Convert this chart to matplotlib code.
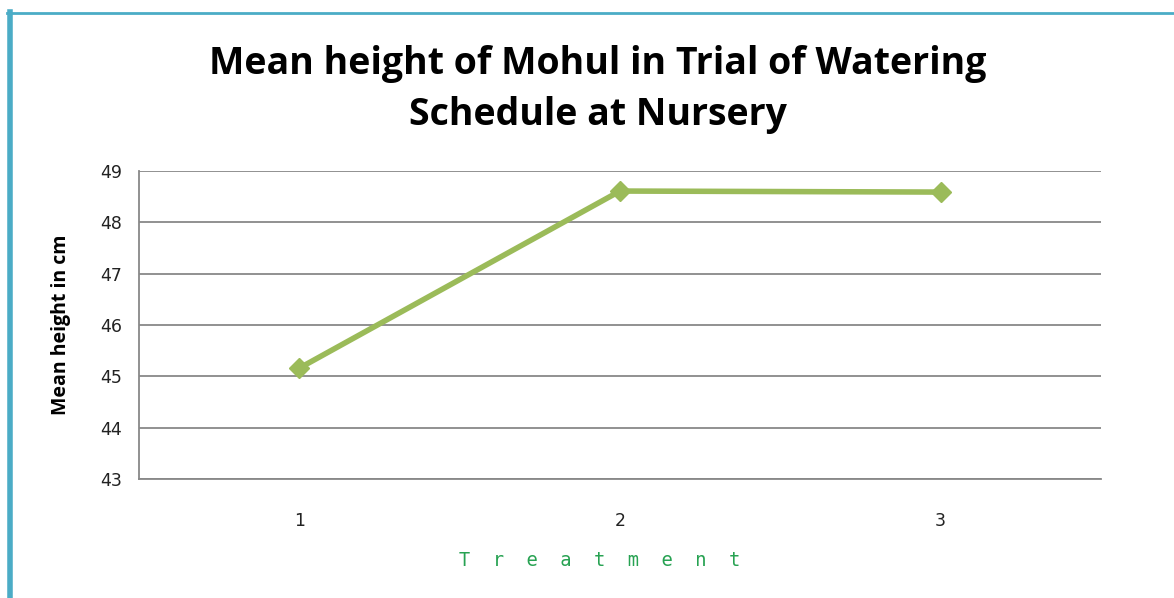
import matplotlib.pyplot as plt
from matplotlib.lines import Line2D

treatments = [1, 2, 3]
mean_height = [45.16, 48.61, 48.59]
y_ticks = [43, 44, 45, 46, 47, 48, 49]

fig = plt.figure(figsize=(11.74, 5.98), dpi=100)
ax = fig.add_axes([0.1184, 0.199, 0.8194, 0.515])

ax.plot(treatments, mean_height, color='#9bbb59', linewidth=4,
        marker='D', markersize=10, zorder=3)

ax.set_xlim(0.5, 3.5)
ax.set_ylim(43, 49)
ax.set_xticks(treatments)
ax.set_yticks(y_ticks)
ax.yaxis.grid(True, color='#888888', linewidth=1.3)
ax.set_axisbelow(True)
for side in ['top', 'right']:
    ax.spines[side].set_visible(False)
for side in ['left', 'bottom']:
    ax.spines[side].set_color('#888888')
    ax.spines[side].set_linewidth(1.3)
ax.tick_params(axis='both', length=0, labelsize=12.5, colors='#222222')
ax.tick_params(axis='x', pad=24)
ax.tick_params(axis='y', pad=12)

ax.set_ylabel('Mean height in cm', fontsize=14, fontweight='bold',
              family='Open Sans', labelpad=21)
fig.text(0.5107, 0.062, '  '.join('Treatment'), color='#27a252',
         family='DejaVu Sans Mono', fontsize=13.5, ha='center', va='center')

fig.suptitle('Mean height of Mohul in Trial of Watering\nSchedule at Nursery',
             x=0.509, y=0.925, fontsize=27, fontweight='bold',
             family='Open Sans', linespacing=1.45, color='black')

# frame like the source chart
fig.add_artist(Line2D([0.0082, 0.0082], [0, 0.98], transform=fig.transFigure,
                      color='#4bacc6', linewidth=4))
fig.add_artist(Line2D([0.006, 1], [0.979, 0.979], transform=fig.transFigure,
                      color='#4bacc6', linewidth=2))

fig.savefig('out.png', dpi=100)
